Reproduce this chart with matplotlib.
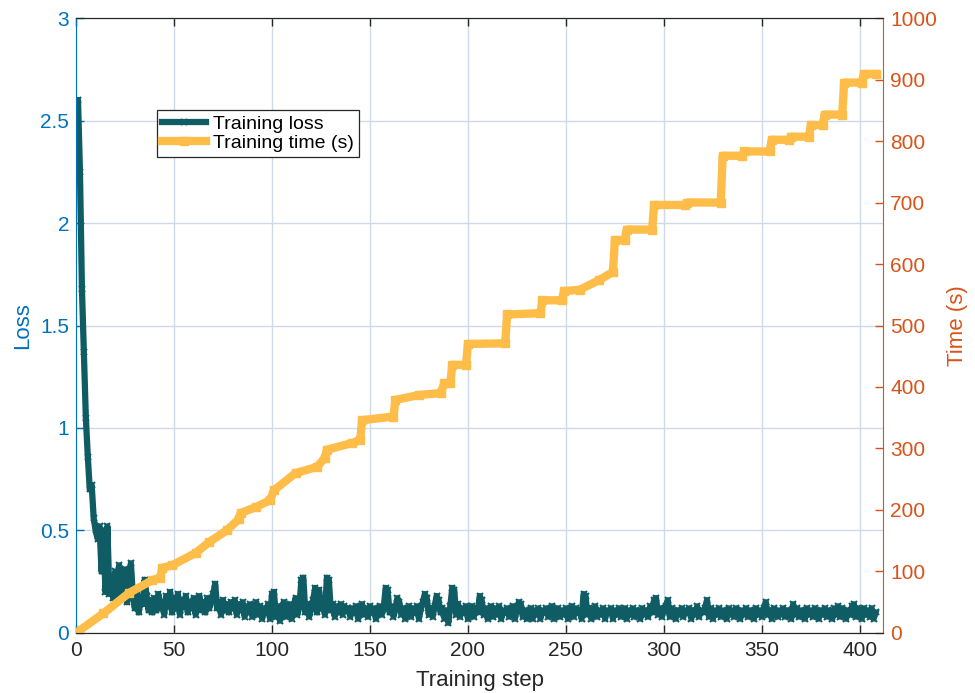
import numpy as np
import matplotlib
matplotlib.use("Agg")
from matplotlib import pyplot as plt
from matplotlib.ticker import FuncFormatter

plt.rcParams['font.family'] = ['Liberation Sans', 'DejaVu Sans']

# training loss, one value per step (0..408)
loss = [
    2.50, 2.60, 2.25, 1.68, 1.37, 1.05, 0.86, 0.70, 0.72, 0.56,
    0.50, 0.46, 0.52, 0.30, 0.50, 0.20, 0.52, 0.19, 0.22, 0.17,
    0.30, 0.16, 0.33, 0.17, 0.26, 0.31, 0.15, 0.24, 0.34, 0.18,
    0.12, 0.20, 0.10, 0.17, 0.14, 0.26, 0.18, 0.11, 0.16, 0.10,
    0.17, 0.11, 0.19, 0.12, 0.15, 0.09, 0.18, 0.13, 0.20, 0.10,
    0.17, 0.12, 0.19, 0.09, 0.16, 0.13, 0.18, 0.10, 0.15, 0.12,
    0.17, 0.09, 0.14, 0.18, 0.11, 0.15, 0.10, 0.17, 0.12, 0.16,
    0.19, 0.24, 0.12, 0.15, 0.09, 0.16, 0.11, 0.14, 0.10, 0.15,
    0.12, 0.16, 0.09, 0.14, 0.11, 0.15, 0.08, 0.13, 0.10, 0.14,
    0.08, 0.12, 0.15, 0.09, 0.13, 0.07, 0.12, 0.10, 0.14, 0.07,
    0.19, 0.20, 0.08, 0.13, 0.06, 0.12, 0.15, 0.08, 0.11, 0.14,
    0.07, 0.12, 0.17, 0.09, 0.13, 0.26, 0.27, 0.10, 0.14, 0.08,
    0.12, 0.16, 0.22, 0.10, 0.21, 0.12, 0.15, 0.09, 0.27, 0.26,
    0.11, 0.14, 0.08, 0.13, 0.10, 0.14, 0.09, 0.13, 0.11, 0.12,
    0.08, 0.12, 0.10, 0.13, 0.07, 0.11, 0.14, 0.09, 0.12, 0.08,
    0.13, 0.10, 0.12, 0.07, 0.11, 0.13, 0.09, 0.12, 0.22, 0.21,
    0.10, 0.13, 0.08, 0.12, 0.17, 0.15, 0.09, 0.12, 0.07, 0.11,
    0.13, 0.08, 0.12, 0.10, 0.13, 0.07, 0.12, 0.15, 0.19, 0.17,
    0.09, 0.12, 0.08, 0.13, 0.18, 0.16, 0.10, 0.12, 0.07, 0.11,
    0.05, 0.13, 0.22, 0.21, 0.09, 0.14, 0.08, 0.12, 0.10, 0.13,
    0.07, 0.11, 0.13, 0.08, 0.12, 0.10, 0.18, 0.16, 0.09, 0.12,
    0.07, 0.11, 0.13, 0.08, 0.12, 0.09, 0.13, 0.07, 0.11, 0.10,
    0.12, 0.08, 0.11, 0.13, 0.07, 0.12, 0.15, 0.14, 0.08, 0.11,
    0.07, 0.10, 0.12, 0.07, 0.11, 0.09, 0.12, 0.07, 0.11, 0.10,
    0.12, 0.08, 0.11, 0.13, 0.07, 0.10, 0.12, 0.08, 0.11, 0.09,
    0.12, 0.07, 0.11, 0.13, 0.08, 0.12, 0.10, 0.11, 0.07, 0.19,
    0.18, 0.09, 0.12, 0.07, 0.11, 0.13, 0.08, 0.11, 0.09, 0.12,
    0.07, 0.11, 0.10, 0.12, 0.07, 0.11, 0.09, 0.12, 0.08, 0.10,
    0.12, 0.07, 0.11, 0.09, 0.12, 0.08, 0.11, 0.10, 0.07, 0.12,
    0.09, 0.11, 0.08, 0.13, 0.10, 0.16, 0.17, 0.09, 0.12, 0.08,
    0.11, 0.13, 0.16, 0.08, 0.12, 0.10, 0.07, 0.11, 0.09, 0.12,
    0.08, 0.11, 0.10, 0.12, 0.07, 0.11, 0.09, 0.13, 0.08, 0.11,
    0.10, 0.12, 0.16, 0.08, 0.12, 0.07, 0.11, 0.09, 0.12, 0.08,
    0.11, 0.10, 0.07, 0.12, 0.09, 0.11, 0.08, 0.12, 0.10, 0.07,
    0.11, 0.09, 0.12, 0.08, 0.11, 0.10, 0.07, 0.12, 0.09, 0.11,
    0.08, 0.12, 0.15, 0.09, 0.11, 0.07, 0.12, 0.10, 0.08, 0.11,
    0.09, 0.12, 0.08, 0.11, 0.10, 0.07, 0.14, 0.09, 0.12, 0.08,
    0.11, 0.10, 0.07, 0.12, 0.09, 0.11, 0.08, 0.12, 0.10, 0.07,
    0.11, 0.09, 0.12, 0.08, 0.11, 0.10, 0.07, 0.12, 0.09, 0.13,
    0.08, 0.12, 0.10, 0.07, 0.11, 0.09, 0.13, 0.14, 0.08, 0.12,
    0.10, 0.07, 0.12, 0.09, 0.11, 0.08, 0.12, 0.07, 0.10,
]
loss_steps = np.arange(len(loss))

# cumulative wall-clock time (s), sampled at the steps where it changes
time_steps = [0, 14, 27, 39, 43, 44, 49, 61, 68, 77, 83, 84, 92, 99, 101,
              112, 123, 127, 128, 141, 145, 146, 162, 163, 175, 186, 188,
              191, 192, 199, 200, 219, 220, 237, 238, 248, 249, 257, 267,
              274, 275, 280, 281, 294, 295, 311, 312, 329, 330, 340, 341,
              354, 355, 364, 365, 374, 375, 381, 382, 391, 392, 401, 402, 408]
time_s = [0, 32, 65, 86, 90, 106, 110, 130, 148, 167, 185, 195, 205, 216, 232,
          260, 270, 285, 298, 309, 314, 346, 352, 379, 387, 390, 406,
          406, 436, 436, 470, 471, 518, 520, 541, 541, 556, 558, 574,
          587, 639, 639, 656, 656, 696, 696, 700, 700, 776, 776, 783,
          783, 802, 802, 807, 807, 826, 826, 843, 843, 895, 895, 909, 909]

blue = '#0072BD'
orange = '#D95319'
teal = '#0F5C64'
yellow = '#FDBD48'
dark = '#262626'

fig = plt.figure(figsize=(9.75, 6.93), dpi=100)
ax1 = fig.add_axes([0.078, 0.0866, 0.828, 0.8874])
ax2 = ax1.twinx()

ax1.set_zorder(1)
ax2.set_zorder(2)
ax2.patch.set_visible(False)

l1, = ax1.plot(loss_steps, loss, color=teal, lw=4.5, marker='x',
               ms=4.5, mew=1.5, label='Training loss')
l2, = ax2.plot(time_steps, time_s, color=yellow, lw=6, marker='s',
               ms=6, mec=yellow, label='Training time (s)')

ax1.set_xlim(0, 412)
ax1.set_ylim(0, 3)
ax2.set_ylim(0, 1000)
ax1.set_xticks(np.arange(0, 401, 50))
ax1.set_yticks(np.arange(0, 3.01, 0.5))
ax2.set_yticks(np.arange(0, 1001, 100))
ax1.yaxis.set_major_formatter(FuncFormatter(lambda v, p: f'{v:g}'))

ax1.grid(True, color='#cfdae6', lw=1.0)
ax1.set_axisbelow(True)

for ax in (ax1, ax2):
    ax.tick_params(direction='in', length=6, width=1, labelsize=15)
    ax.spines['top'].set_color(dark)
    ax.spines['bottom'].set_color(dark)
ax1.tick_params(axis='x', colors=dark, top=True, pad=6)
ax1.tick_params(axis='y', colors=blue, pad=5)
ax2.tick_params(axis='y', colors=orange, pad=5)
ax1.spines['left'].set_color(blue)
ax2.spines['left'].set_visible(False)
ax1.spines['right'].set_visible(False)
ax2.spines['right'].set_color(orange)

ax1.set_xlabel('Training step', fontsize=16, color=dark, labelpad=7)
ax1.set_ylabel('Loss', fontsize=16, color=blue, labelpad=5)
ax2.set_ylabel('Time (s)', fontsize=16, color=orange, labelpad=7)

leg = ax2.legend(handles=[l1, l2], loc='upper left',
                 bbox_to_anchor=(0.100, 0.850), borderaxespad=0,
                 fancybox=False, edgecolor=dark, framealpha=1,
                 fontsize=14, handlelength=2.3, borderpad=0.25,
                 labelspacing=0.1, handletextpad=0.35)
leg.get_frame().set_linewidth(0.9)

fig.savefig('out.png', dpi=100)
